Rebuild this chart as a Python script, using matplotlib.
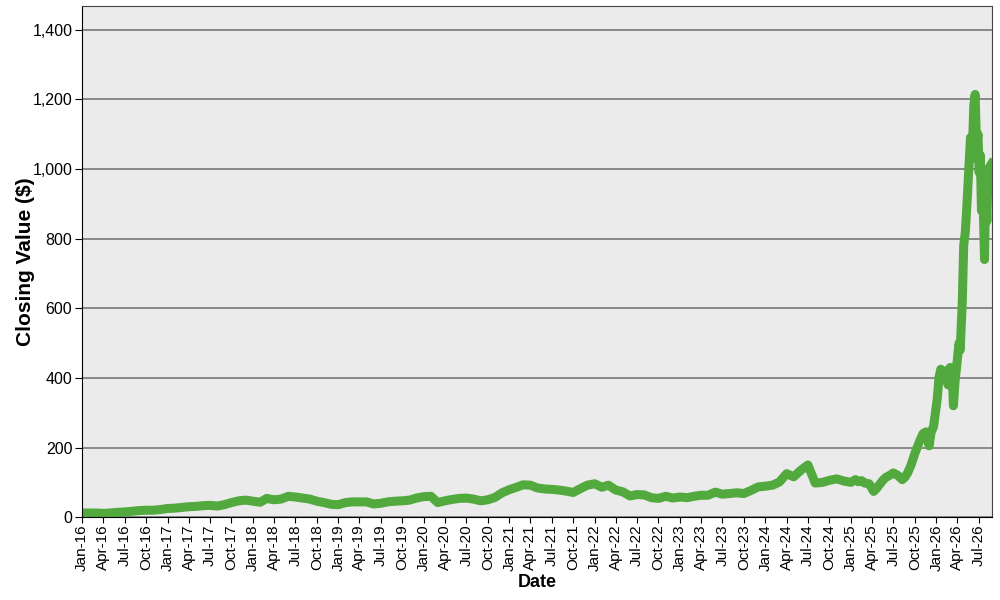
import matplotlib
matplotlib.use('Agg')
import matplotlib.pyplot as plt
import matplotlib.dates as mdates
from matplotlib.ticker import FuncFormatter, MultipleLocator
import numpy as np
import pandas as pd

# monthly closes (first of month)
monthly_start = '2016-01-01'
close_2016 = [12, 12, 12, 11, 12, 14, 15, 17, 19, 20, 20, 22]
close_2017 = [25, 26, 28, 30, 31, 33, 34, 32, 36, 42, 47, 49]
close_2018 = [46, 43, 54, 50, 52, 60, 58, 55, 52, 46, 42, 37]
close_2019 = [36, 42, 44, 44, 44, 38, 40, 44, 46, 47, 49, 55]
close_2020 = [59, 60, 42, 47, 51, 54, 55, 52, 47, 50, 57, 70]
close_2021 = [79, 86, 93, 92, 84, 81, 80, 78, 75, 71, 82, 92]
close_2022 = [96, 86, 92, 78, 73, 61, 65, 64, 56, 54, 60, 55]
close_2023 = [58, 56, 60, 63, 63, 72, 66, 68, 70, 68, 77, 87]
close_2024 = [89, 92, 101, 125, 116, 135, 150, 98, 100, 106, 110, 104]

# 2025 onwards moves fast, so more points
dates_2025 = ['2025-01-01', '2025-01-20', '2025-02-01', '2025-02-15', '2025-03-01',
	'2025-03-20', '2025-04-08', '2025-04-20', '2025-05-01', '2025-05-20',
	'2025-06-01', '2025-06-15', '2025-07-01', '2025-07-20', '2025-08-08',
	'2025-08-20', '2025-09-01', '2025-09-15', '2025-10-01', '2025-10-20',
	'2025-11-05', '2025-11-18', '2025-12-01', '2025-12-10', '2025-12-20',
	'2025-12-28']
close_2025 = [100, 108, 102, 105, 98, 96, 74, 82, 92, 108,
	115, 120, 127, 120, 108, 115, 128, 150, 183, 216,
	240, 245, 205, 245, 260, 300]

dates_2026 = ['2026-01-05', '2026-01-12', '2026-01-20', '2026-02-01', '2026-02-11',
	'2026-02-20', '2026-03-01', '2026-03-10', '2026-03-15', '2026-03-22',
	'2026-03-30', '2026-04-08', '2026-04-13', '2026-04-22', '2026-04-28',
	'2026-05-05', '2026-05-12', '2026-05-20', '2026-05-27', '2026-06-03',
	'2026-06-10', '2026-06-16', '2026-06-22', '2026-06-28', '2026-07-03',
	'2026-07-08', '2026-07-13', '2026-07-18', '2026-07-22', '2026-07-26',
	'2026-07-30', '2026-08-05', '2026-08-10', '2026-08-15', '2026-08-20',
	'2026-08-25']
close_2026 = [340, 400, 425, 395, 420, 380, 430, 410, 320, 390,
	440, 500, 480, 620, 780, 820, 900, 1000, 1090, 1030,
	1180, 1214, 1060, 1100, 990, 1040, 880, 980, 850, 740,
	930, 850, 1000, 930, 1010, 1015]


def get_data():
	"""Stitch the monthly and the dense pieces into one series"""
	monthly = (close_2016 + close_2017 + close_2018 + close_2019 + close_2020
		+ close_2021 + close_2022 + close_2023 + close_2024)
	monthly_dates = pd.date_range(monthly_start, periods=len(monthly), freq='MS')
	dates = list(monthly_dates) + list(pd.to_datetime(dates_2025)) + list(pd.to_datetime(dates_2026))
	values = monthly + close_2025 + close_2026
	return dates, values


def plot_close(dates, values):
	fig = plt.figure(figsize=(10, 6), dpi=100)
	ax = fig.add_axes([0.082, 0.138, 0.910, 0.852])
	ax.set_facecolor('#ebebeb')

	ax.plot(dates, values, color='#52a93e', linewidth=6.5, solid_joinstyle='round')

	ax.set_ylim(0, 1468)
	ax.set_xlim(pd.Timestamp('2016-01-01'), pd.Timestamp('2026-08-27'))
	ax.yaxis.set_major_locator(MultipleLocator(200))
	ax.yaxis.set_major_formatter(FuncFormatter(lambda v, p: '{:,.0f}'.format(v)))
	ax.xaxis.set_major_locator(mdates.MonthLocator(bymonth=[1, 4, 7, 10]))
	ax.xaxis.set_major_formatter(mdates.DateFormatter('%b-%y'))

	ax.grid(axis='y', color='#6e6e6e', linewidth=1.1)
	ax.set_axisbelow(True)
	for s in ['top', 'right']:
		ax.spines[s].set_color('#444444')
	for s in ['left', 'bottom']:
		ax.spines[s].set_color('black')

	ax.tick_params(axis='y', direction='out', length=5, pad=2, labelsize=11.5, colors='black')
	ax.tick_params(axis='x', direction='out', length=4, pad=1, labelsize=11, colors='black')
	plt.setp(ax.get_xticklabels(), rotation=90)

	ax.set_xlabel('Date', fontsize=13, fontweight='bold')
	ax.set_ylabel('Closing Value ($)', fontsize=15, fontweight='bold')
	ax.xaxis.set_label_coords(0.5, -0.112)
	ax.yaxis.set_label_coords(-0.052, 0.5)

	fig.savefig('out.png')


def main():
	plt.rcParams['font.family'] = ['Liberation Sans', 'DejaVu Sans']
	dates, values = get_data()
	plot_close(dates, values)


if __name__ == '__main__':
	main()
